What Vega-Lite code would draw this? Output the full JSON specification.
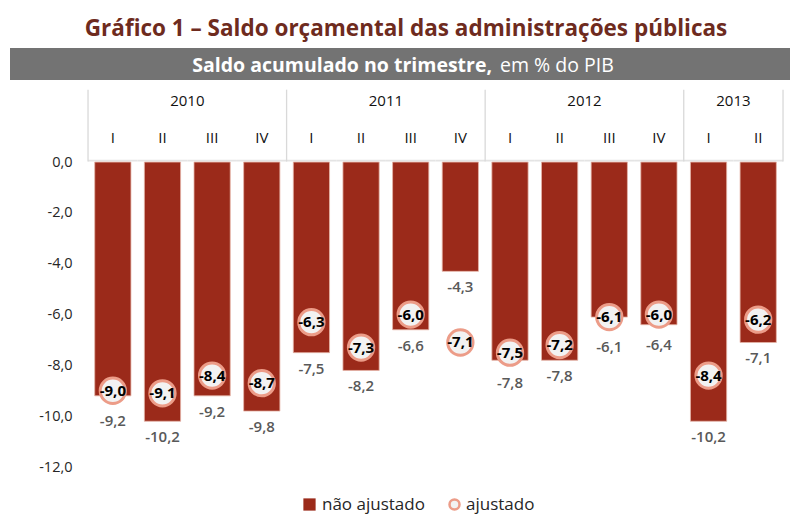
{
  "$schema": "https://vega.github.io/schema/vega-lite/v6.json",
  "width": 780,
  "height": 419,
  "autosize": {"type": "none"},
  "padding": {"left": 10, "top": 48, "right": 0, "bottom": 50},
  "background": "white",
  "config": {
    "locale": {"number": {"decimal": ",", "thousands": ".", "grouping": [3], "currency": ["", " €"], "minus": "-"}},
    "view": {"stroke": null},
    "font": "Open Sans"
  },
  "title": {
    "text": "Gráfico 1 – Saldo orçamental das administrações públicas",
    "font": "Open Sans",
    "fontSize": 22.5,
    "fontWeight": "bold",
    "color": "#6E2B1E",
    "anchor": "middle",
    "dx": 6,
    "offset": 8
  },
  "data": {
    "values": [
      {"period": "2010-I", "year": "2010", "q": "I", "val": -9.2, "adj": -9.0},
      {"period": "2010-II", "year": "2010", "q": "II", "val": -10.2, "adj": -9.1},
      {"period": "2010-III", "year": "2010", "q": "III", "val": -9.2, "adj": -8.4},
      {"period": "2010-IV", "year": "2010", "q": "IV", "val": -9.8, "adj": -8.7},
      {"period": "2011-I", "year": "2011", "q": "I", "val": -7.5, "adj": -6.3},
      {"period": "2011-II", "year": "2011", "q": "II", "val": -8.2, "adj": -7.3},
      {"period": "2011-III", "year": "2011", "q": "III", "val": -6.6, "adj": -6.0},
      {"period": "2011-IV", "year": "2011", "q": "IV", "val": -4.3, "adj": -7.1},
      {"period": "2012-I", "year": "2012", "q": "I", "val": -7.8, "adj": -7.5},
      {"period": "2012-II", "year": "2012", "q": "II", "val": -7.8, "adj": -7.2},
      {"period": "2012-III", "year": "2012", "q": "III", "val": -6.1, "adj": -6.1},
      {"period": "2012-IV", "year": "2012", "q": "IV", "val": -6.4, "adj": -6.0},
      {"period": "2013-I", "year": "2013", "q": "I", "val": -10.2, "adj": -8.4},
      {"period": "2013-II", "year": "2013", "q": "II", "val": -7.1, "adj": -6.2}
    ]
  },
  "layer": [
    {
      "data": {"values": [{}]},
      "mark": {"type": "rect", "color": "#737373"},
      "encoding": {
        "y": {
          "datum": 4.49,
          "type": "quantitative",
          "scale": {"domain": [-12, 4.49], "nice": false, "zero": false},
          "axis": {
            "values": [-12, -10, -8, -6, -4, -2, 0],
            "format": ".1f",
            "offset": -78,
            "domain": false,
            "ticks": false,
            "grid": false,
            "labelPadding": 16,
            "labelFontSize": 14.5,
            "labelFont": "Open Sans",
            "labelColor": "#262626",
            "title": null
          }
        },
        "y2": {"datum": 3.23}
      }
    },
    {
      "data": {"values": [{}]},
      "mark": {"type": "text", "text": "Saldo acumulado no trimestre,", "align": "right", "baseline": "middle", "dx": 92, "fontSize": 19.5, "fontWeight": "bold", "color": "white", "font": "Open Sans"},
      "encoding": {"y": {"datum": 3.78, "type": "quantitative"}}
    },
    {
      "data": {"values": [{}]},
      "mark": {"type": "text", "text": "em % do PIB", "align": "left", "baseline": "middle", "dx": 100, "fontSize": 19.5, "color": "white", "font": "Open Sans", "letterSpacing": 0.6},
      "encoding": {"y": {"datum": 3.78, "type": "quantitative"}}
    },
    {
      "mark": {"type": "bar", "color": "#E4E4E4", "width": {"band": 1}},
      "encoding": {
        "x": {"field": "period", "type": "nominal", "sort": null, "axis": null, "scale": {"type": "band", "paddingInner": 0, "paddingOuter": 0.856, "align": 0.918}},
        "y": {"datum": 0.09, "type": "quantitative"},
        "y2": {"datum": 0.02}
      }
    },
    {
      "transform": [{"filter": "datum.q === 'I'"}],
      "mark": {"type": "rule", "color": "#D9D9D9", "strokeWidth": 1.3},
      "encoding": {
        "x": {"field": "period", "type": "nominal", "sort": null, "bandPosition": 0},
        "y": {"datum": 0.02, "type": "quantitative"},
        "y2": {"datum": 2.85}
      }
    },
    {
      "transform": [{"filter": "datum.period === '2013-II'"}],
      "mark": {"type": "rule", "color": "#D9D9D9", "strokeWidth": 1.3},
      "encoding": {
        "x": {"field": "period", "type": "nominal", "sort": null, "bandPosition": 1},
        "y": {"datum": 0.02, "type": "quantitative"},
        "y2": {"datum": 2.85}
      }
    },
    {
      "mark": {"type": "text", "fontSize": 15, "color": "#111111", "baseline": "middle", "font": "Open Sans"},
      "encoding": {
        "x": {"field": "period", "type": "nominal", "sort": null},
        "y": {"datum": 0.96, "type": "quantitative"},
        "text": {"field": "q"}
      }
    },
    {
      "transform": [{"filter": "datum.q === 'III' || (datum.year === '2013' && datum.q === 'II')"}],
      "mark": {"type": "text", "fontSize": 15, "color": "#111111", "baseline": "middle", "font": "Open Sans"},
      "encoding": {
        "x": {"field": "period", "type": "nominal", "sort": null, "bandPosition": 0},
        "y": {"datum": 2.4, "type": "quantitative"},
        "text": {"field": "year"}
      }
    },
    {
      "mark": {"type": "bar", "width": {"band": 0.73}, "stroke": "#E6B5A8", "strokeWidth": 0.8},
      "encoding": {
        "x": {"field": "period", "type": "nominal", "sort": null},
        "y": {"field": "val", "type": "quantitative"},
        "y2": {"datum": 0},
        "fill": {
          "datum": "não ajustado",
          "type": "nominal",
          "scale": {"domain": ["não ajustado"], "range": ["#9B2A1A"]},
          "legend": {
            "orient": "none",
            "legendX": 291,
            "legendY": 448,
            "title": null,
            "symbolType": "square",
            "symbolSize": 150,
            "symbolStrokeWidth": 0,
            "labelFontSize": 17,
            "labelFont": "Open Sans",
            "labelColor": "#262626",
            "labelOffset": 4
          }
        }
      }
    },
    {
      "mark": {"type": "circle", "size": 640, "fill": "#F2F2F2", "strokeWidth": 3, "opacity": 1},
      "encoding": {
        "x": {"field": "period", "type": "nominal", "sort": null},
        "y": {"field": "adj", "type": "quantitative"},
        "stroke": {
          "datum": "ajustado",
          "type": "nominal",
          "scale": {"domain": ["ajustado"], "range": ["#EC9C88"]},
          "legend": {
            "orient": "none",
            "legendX": 436,
            "legendY": 448,
            "title": null,
            "symbolType": "circle",
            "symbolSize": 100,
            "symbolFillColor": "#F2F2F2",
            "symbolStrokeWidth": 2.5,
            "labelFontSize": 17,
            "labelFont": "Open Sans",
            "labelColor": "#262626",
            "labelOffset": 3
          }
        }
      }
    },
    {
      "mark": {"type": "text", "fontSize": 15, "fontWeight": "bold", "color": "#000000", "baseline": "middle", "font": "Open Sans", "letterSpacing": -0.4},
      "encoding": {
        "x": {"field": "period", "type": "nominal", "sort": null},
        "y": {"field": "adj", "type": "quantitative"},
        "text": {"field": "adj", "type": "quantitative", "format": ".1f"}
      }
    },
    {
      "transform": [{"calculate": "abs(datum.adj - datum.val) < 0.45 ? min(datum.val, datum.adj - 0.55) : datum.val", "as": "labelY"}],
      "mark": {"type": "text", "fontSize": 15, "fontWeight": 600, "color": "#595959", "baseline": "middle", "dy": 16, "font": "Open Sans"},
      "encoding": {
        "x": {"field": "period", "type": "nominal", "sort": null},
        "y": {"field": "labelY", "type": "quantitative"},
        "text": {"field": "val", "type": "quantitative", "format": ".1f"}
      }
    }
  ]
}
